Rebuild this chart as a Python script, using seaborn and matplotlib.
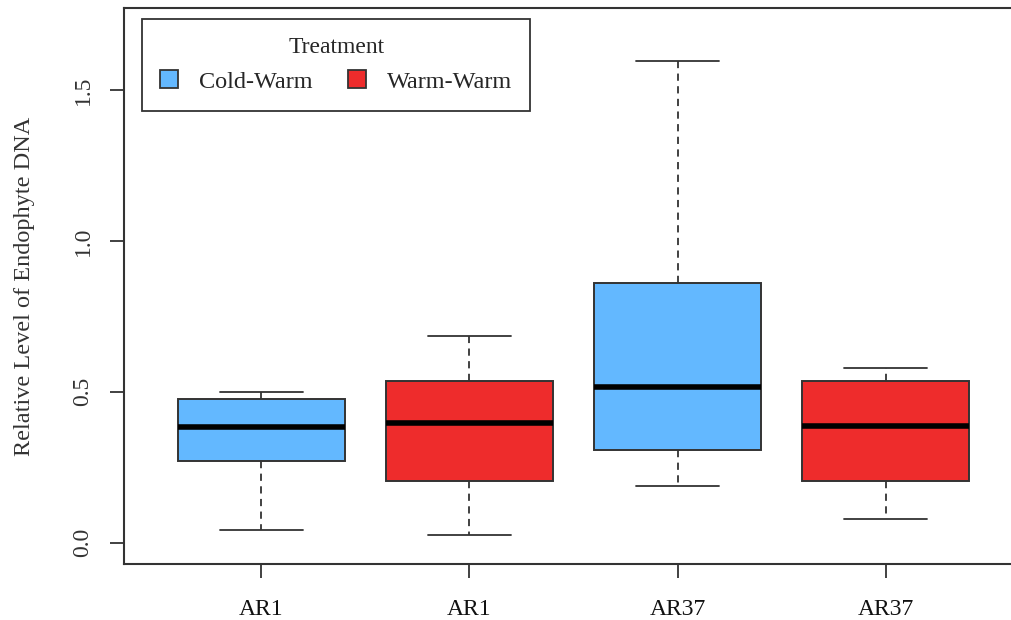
import pandas as pd
import numpy as np
import matplotlib.pyplot as plt
import seaborn as sns
from matplotlib.patches import Patch

sns.set_style("white")
plt.rcParams['font.family'] = ['Liberation Serif', 'DejaVu Serif']

# summary values (one entry per box)
groups = ["AR1 Cold-Warm", "AR1 Warm-Warm", "AR37 Cold-Warm", "AR37 Warm-Warm"]
tick_labels = ["AR1", "AR1", "AR37", "AR37"]
treatment = ["Cold-Warm", "Warm-Warm", "Cold-Warm", "Warm-Warm"]
lows = [0.043, 0.026, 0.189, 0.079]
q1s = [0.272, 0.205, 0.308, 0.205]
medians = [0.384, 0.397, 0.517, 0.387]
q3s = [0.477, 0.536, 0.861, 0.536]
highs = [0.500, 0.685, 1.596, 0.579]

colors = {"Cold-Warm": "#63B8FF", "Warm-Warm": "#EE2C2C"}

rows = []
for g, t, a, b, c, d, e in zip(groups, treatment, lows, q1s, medians, q3s, highs):
    for v in [a, b, c, d, e]:
        rows.append({"group": g, "Treatment": t, "value": v})
df = pd.DataFrame(rows)

fig = plt.figure(figsize=(10.11, 6.2), dpi=100)
ax = fig.add_axes([124/1011, 1 - 564/620, 899/1011, 556/620])

edge = "#333333"
sns.boxplot(data=df, x="group", y="value", hue="Treatment", palette=colors,
            order=groups, dodge=False, width=0.8, saturation=1, whis=(0, 100),
            linecolor=edge, linewidth=1.4,
            medianprops=dict(color="black", linewidth=4),
            whiskerprops=dict(linestyle=(0, (4, 3)), linewidth=1.3),
            capprops=dict(linewidth=1.3),
            legend=False, ax=ax)

ax.set_xlim(-0.66, 3.66)
ax.set_ylim(-0.0706, 1.772)
ax.set_xticks(range(4))
ax.set_xticklabels(tick_labels, fontsize=17, color="#111111")
ax.set_yticks([0.0, 0.5, 1.0, 1.5])
ax.set_yticklabels(["0.0", "0.5", "1.0", "1.5"], fontsize=17, color="#333333",
                   rotation=90, va="center")
ax.tick_params(axis="both", direction="out", length=10, width=1.3, color=edge,
               left=True, bottom=True)
ax.tick_params(axis="x", pad=15)
ax.tick_params(axis="y", pad=12)
ax.set_xlabel("")
ax.set_ylabel("Relative Level of Endophyte DNA", fontsize=17.5, color="#333333")
ax.yaxis.set_label_coords(-0.099, 0.5)

for s in ax.spines.values():
    s.set_color(edge)
    s.set_linewidth(1.5)
    s.set_visible(True)

handles = [Patch(facecolor=colors[k], edgecolor=edge, linewidth=1.3, label=k)
           for k in ["Cold-Warm", "Warm-Warm"]]
leg = ax.legend(handles=handles, title="Treatment", ncol=2, loc="upper left",
                bbox_to_anchor=(18/899, 1 - 11/556), borderaxespad=0,
                fontsize=17.5, title_fontsize=17, fancybox=False,
                edgecolor=edge, framealpha=1, handlelength=0.75,
                handleheight=0.75, handletextpad=0.85, columnspacing=1.45,
                borderpad=0.75, labelspacing=0.5)
leg.get_frame().set_linewidth(1.3)

fig.savefig("out.png", dpi=100)
